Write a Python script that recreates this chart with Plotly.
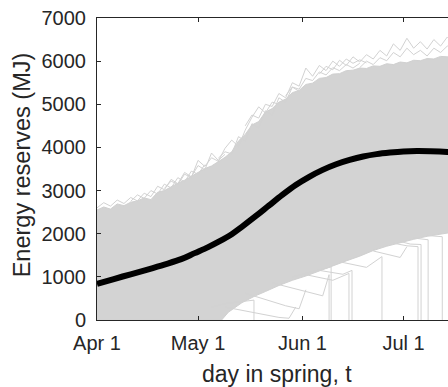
import plotly.graph_objects as go

# ---- data (days since Apr 1) ----
tick_days = [0, 30, 61, 91]
tick_text = ["Apr 1", "May 1", "Jun 1", "Jul 1"]
y_ticks = [0, 1000, 2000, 3000, 4000, 5000, 6000, 7000]

mean_days = [0, 5, 10, 15, 20, 25, 29, 33, 36, 40, 43, 47, 51, 55, 59, 63, 67, 71, 75, 79, 83, 87, 91, 95, 99, 104, 108]
mean_vals = [835, 950, 1060, 1170, 1285, 1410, 1550, 1690, 1810, 1990, 2160, 2400, 2650, 2900, 3130, 3320, 3480,
             3610, 3710, 3790, 3845, 3880, 3905, 3915, 3910, 3894, 3870]

upper_days = [0, 2, 4, 6, 8, 10, 12, 14, 16, 18, 20, 22, 24, 26, 28, 30, 32, 34, 36, 38, 40, 42, 44, 46, 48, 50,
              52, 54, 56, 58, 60, 62, 64, 66, 68, 70, 72, 74, 76, 78, 80, 82, 84, 86, 88, 90, 92, 94, 96, 98, 100,
              102, 104, 106]
upper_vals = [2550, 2620, 2570, 2690, 2650, 2730, 2760, 2830, 2790, 2960, 3000, 3090, 3170, 3240, 3330, 3410, 3510,
              3570, 3670, 3770, 3900, 4150, 4300, 4520, 4600, 4820, 4900, 5050, 5120, 5270, 5320, 5460, 5490, 5600,
              5620, 5700, 5710, 5780, 5790, 5840, 5830, 5890, 5880, 5940, 5920, 5980, 5960, 6020, 6010, 6060, 6050,
              6110, 6100, 6150]

lower_days = [0, 37, 39, 41, 43, 47, 50, 54, 58, 62, 66, 70, 74, 78, 82, 86, 90, 94, 98, 102, 106]
lower_vals = [0, 0, 180, 280, 400, 560, 660, 800, 920, 1020, 1130, 1250, 1370, 1480, 1610, 1710, 1790, 1870,
              1940, 1990, 2040]

# light outline trajectories above the dense mass
top_lines = [
    ([0, 2, 4, 6, 8, 10, 12, 14, 16, 18, 20, 22, 24, 26, 28, 30, 32, 34, 36, 38],
     [2600, 2720, 2640, 2780, 2700, 2840, 2760, 2940, 2860, 3100, 3020, 3260, 3160, 3420, 3320, 3580, 3480, 3870, 3700, 3840]),
    ([10, 12, 14, 16, 18, 20, 22, 24, 26, 28, 30, 32],
     [2750, 2900, 2820, 3000, 2920, 3150, 3060, 3300, 3200, 3450, 3380, 3600]),
    ([20, 22, 24, 26, 28, 30, 32, 34, 36, 38, 40, 42, 44, 46, 48, 50, 52, 54],
     [3050, 3220, 3140, 3380, 3300, 3700, 3560, 3760, 3680, 3980, 4170, 4020, 4400, 4700, 4940, 4800, 5050, 5000]),
    ([36, 38, 40, 42, 44, 46, 48, 50, 52, 54, 56, 58, 60],
     [3750, 3900, 3850, 4250, 4150, 4550, 4450, 4850, 4750, 5150, 5050, 5400, 5300]),
    ([44, 46, 48, 50, 52, 54, 56, 58, 60, 62, 64, 66, 68, 70, 72, 74, 76, 78, 80],
     [4500, 4750, 4680, 5000, 4950, 5250, 5150, 5500, 5420, 5840, 5650, 5900, 5780, 6000, 5880, 6050, 5950, 6030, 5960]),
    ([56, 58, 60, 62, 64, 66, 68, 70, 72, 74, 76, 78],
     [5200, 5400, 5350, 5600, 5550, 5750, 5680, 5850, 5780, 5920, 5840, 5950]),
    ([66, 68, 70, 72, 74, 76, 78, 80, 82, 84, 86, 88, 90, 92, 94, 96, 98, 100, 102, 104, 106],
     [5700, 5880, 5800, 6020, 5900, 6100, 5980, 6150, 6050, 6250, 6120, 6400, 6250, 6530, 6300, 6450, 6280, 6500, 6350, 6560, 6400]),
    ([78, 80, 82, 84, 86, 88, 90, 92, 94, 96, 98, 100, 102, 104, 106],
     [5850, 6000, 5920, 6080, 6010, 6200, 6100, 6300, 6150, 6250, 6120, 6300, 6200, 6350, 6250]),
]

# declining trajectories below the dense mass
low_lines = [
    ([34, 38, 42, 46.6, 46.6], [300, 380, 420, 460, 0]),
    ([38, 42, 46, 50, 54, 57, 59], [300, 240, 170, 110, 60, 40, 300]),
    ([44, 48, 52, 56, 60, 62], [620, 520, 420, 330, 260, 700]),
    ([52, 56, 60, 64, 67, 68.9, 68.9], [860, 780, 700, 620, 560, 1050, 0]),
    ([58, 62, 66, 69.5, 69.5], [1000, 1080, 1150, 1230, 0]),
    ([62, 66, 70, 74.8, 74.8], [1050, 980, 920, 1080, 0]),
    ([66, 70, 73, 75.7, 75.7], [1150, 1100, 1060, 1150, 0]),
    ([72, 76, 80, 84.6, 84.6], [1350, 1280, 1220, 1470, 0]),
    ([82, 86, 90, 92], [1600, 1520, 1450, 1700]),
    ([88, 92, 95.3, 95.3], [1780, 1720, 1700, 0]),
    ([90, 93, 96.2, 96.2], [1820, 1760, 1750, 0]),
    ([94, 96, 98.3, 98.3], [1900, 1880, 1860, 0]),
    ([98, 100, 102.5, 102.5], [1960, 1940, 1930, 0]),
]

# ---- figure ----
fig = go.Figure()

fill_x = upper_days + lower_days[::-1]
fill_y = upper_vals + lower_vals[::-1]
fig.add_trace(go.Scatter(x=fill_x, y=fill_y, fill="toself", mode="lines",
                         fillcolor="rgb(211,211,211)", line=dict(color="rgb(208,208,208)", width=1),
                         hoverinfo="skip", showlegend=False))

for xs, ys in top_lines + low_lines:
    fig.add_trace(go.Scatter(x=xs, y=ys, mode="lines",
                             line=dict(color="rgb(210,210,210)", width=1),
                             hoverinfo="skip", showlegend=False))

fig.add_trace(go.Scatter(x=mean_days, y=mean_vals, mode="lines",
                         line=dict(color="black", width=6, shape="spline"),
                         hoverinfo="skip", showlegend=False))

axis_col = "#262626"
font_family = "Liberation Sans, Arial, sans-serif"

fig.update_layout(
    width=448, height=387,
    margin=dict(l=97, r=0, t=18, b=67),
    paper_bgcolor="white", plot_bgcolor="white",
    font=dict(family=font_family, size=20, color=axis_col),
    showlegend=False,
    xaxis=dict(range=[0, 104.2], tickvals=tick_days, ticktext=tick_text,
               showline=True, linecolor=axis_col, linewidth=1, mirror="ticks",
               ticks="inside", ticklen=4, tickcolor=axis_col, ticklabelstandoff=5,
               showgrid=False, zeroline=False, tickfont=dict(size=20, color=axis_col)),
    yaxis=dict(range=[0, 7000], tickvals=y_ticks,
               showline=True, linecolor=axis_col, linewidth=1, mirror=False,
               ticks="inside", ticklen=4, tickcolor=axis_col, ticklabelstandoff=6,
               showgrid=False, zeroline=False, tickfont=dict(size=20, color=axis_col)),
    annotations=[
        dict(text="day in spring, t", xref="paper", yref="paper", x=0.5128, y=-0.18,
             xanchor="center", yanchor="middle", showarrow=False,
             font=dict(size=23, color=axis_col, family=font_family)),
        dict(text="Energy reserves (MJ)", xref="paper", yref="paper", x=-0.213, y=0.513,
             xanchor="center", yanchor="middle", textangle=-90, showarrow=False,
             font=dict(size=23.5, color=axis_col, family=font_family)),
    ],
)

fig.write_html("out.html")
